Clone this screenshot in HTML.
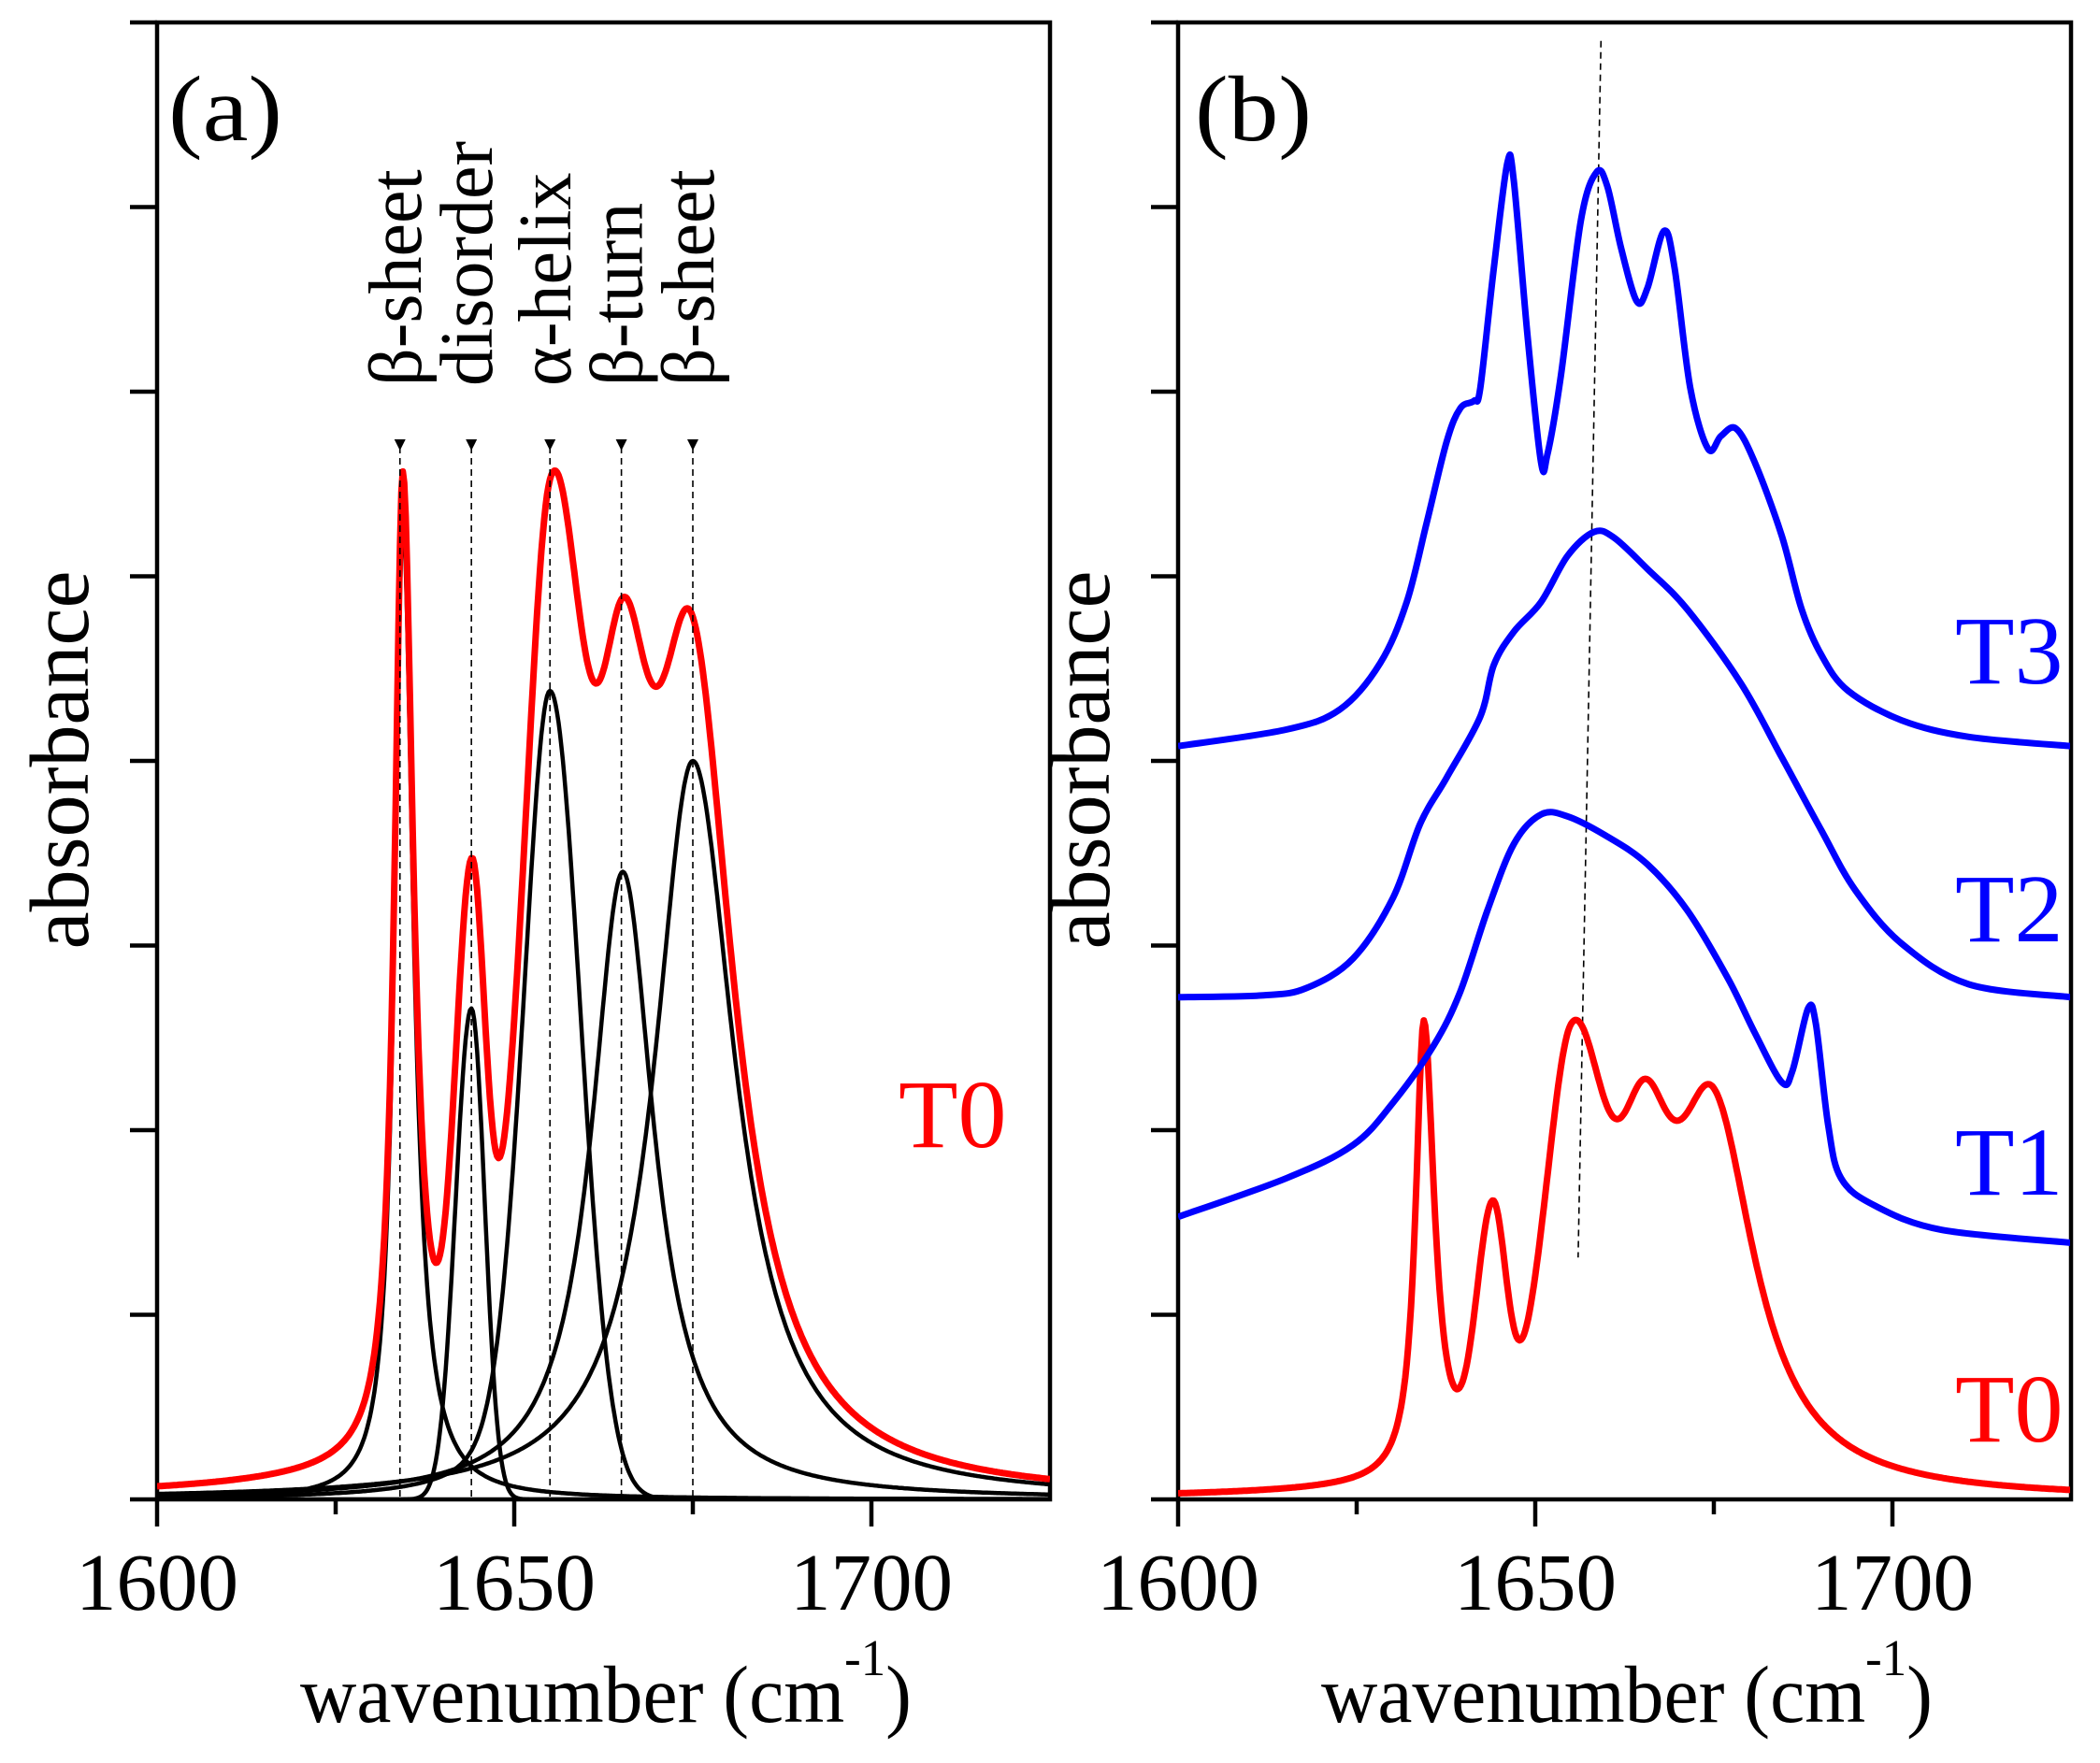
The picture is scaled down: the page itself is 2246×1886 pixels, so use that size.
<!DOCTYPE html>
<html><head><meta charset="utf-8"><style>
html,body{margin:0;padding:0;background:#fff;}
svg{display:block;font-family:"Liberation Serif",serif;}
</style></head><body>
<svg id="fig" width="2246" height="1886" viewBox="0 0 2246 1886" xmlns="http://www.w3.org/2000/svg">
<defs>
<clipPath id="clipA"><rect x="168" y="24" width="955" height="1580"/></clipPath>
<clipPath id="clipB"><rect x="1260" y="24" width="954" height="1580"/></clipPath>
</defs>
<g id="panelA"></g>
<g id="panelB"></g>
</svg>
<script>
// ---------- data ----------
// Panel (a): band components (wavenumber cm-1, height in tick units, left/right half-widths, Lorentz fractions)
const bandNames   = ["beta-sheet-1634","disorder","alpha-helix","beta-turn","beta-sheet-1675"];
const bandLabels  = ["β-sheet","disorder","α-helix","β-turn","β-sheet"];
const bandCenters = [1634.4, 1644, 1655, 1665.2, 1675];
const bandHeights = [5.3, 2.66, 4.38, 3.4, 4.0];
const bandHwhmL   = [1.4, 2.6, 4.5, 5.3, 6.5];
const bandHwhmR   = [1.8, 2.2, 5.0, 5.3, 7.2];
const bandEtaL    = [1.0, 0.0, 0.35, 1.0, 1.0];
const bandEtaR    = [1.0, 0.0, 0.0, 1.0, 1.0];
const t0ScaleB    = 0.466;
// Panel (b): measured spectra (wavenumber, absorbance in tick units)
const t3Wn  = [1600,1615.2,1622.7,1628.3,1632.0,1634.8,1637.6,1639.5,1641.4,1642.3,1644.2,1646.1,1647.0,1648.9,1650.8,1651.7,1653.6,1656.4,1658.6,1660.1,1662.0,1664.2,1665.7,1668.0,1669.5,1671.7,1674.2,1676.0,1678.1,1680.7,1684.5,1687.3,1690.1,1693.8,1701.3,1710.7,1725];
const t3Val = [4.08,4.17,4.28,4.53,4.86,5.29,5.73,5.91,5.95,6.02,6.67,7.24,7.14,6.31,5.62,5.66,6.09,6.93,7.19,7.11,6.78,6.49,6.56,6.87,6.67,6.02,5.69,5.76,5.80,5.62,5.22,4.82,4.57,4.38,4.22,4.13,4.08];
const t2Wn  = [1600,1612,1618,1624.5,1630.1,1633.9,1637.6,1642.3,1644.2,1647.0,1650.8,1654.5,1658.2,1661.0,1665.7,1671.3,1678.8,1684.5,1690.1,1694.8,1701.3,1710.7,1725];
const t2Val = [2.72,2.73,2.77,2.93,3.26,3.66,3.91,4.24,4.52,4.70,4.86,5.11,5.24,5.21,5.04,4.82,4.42,4.02,3.62,3.30,3.01,2.79,2.72];
const t1Wn  = [1600,1615.2,1624.5,1630.1,1635.8,1639.5,1643.3,1647.0,1650.8,1654.5,1660.1,1665.7,1671.3,1677.0,1680.7,1684.5,1686.0,1688.2,1689.3,1691.0,1692.8,1697.6,1706.9,1725];
const t1Val = [1.53,1.74,1.92,2.15,2.46,2.75,3.19,3.55,3.71,3.70,3.59,3.44,3.19,2.82,2.53,2.26,2.32,2.66,2.57,2.03,1.74,1.59,1.46,1.39];
const xTicksMajor = [1600, 1650, 1700];
const xTicksMinor = [1625, 1675];
const yTicks = [0,1,2,3,4,5,6,7,8];
const dashB = [[1659.2, 7.9], [1656.0, 1.31]];

// ---------- helpers ----------
const NS = "http://www.w3.org/2000/svg";
const X0 = 1600, X1 = 1725, TOP = 24, BOT = 1604, W = 955;
function xScale(left){ return w => left + (w - X0) / (X1 - X0) * W; }
function yScale(v){ return BOT - v * (BOT - TOP) / 8; }
function mk(tag, attrs, parent){ const e = document.createElementNS(NS, tag); for (const k in attrs) e.setAttribute(k, attrs[k]); parent.appendChild(e); return e; }
function band(i, w){
  const d = w - bandCenters[i], h = d < 0 ? bandHwhmL[i] : bandHwhmR[i], eta = d < 0 ? bandEtaL[i] : bandEtaR[i];
  const r = d / h, L = 1 / (1 + r*r), G = Math.exp(-Math.LN2 * r*r);
  return bandHeights[i] * (eta*L + (1-eta)*G);
}
function total(w){ let s = 0; for (let i = 0; i < bandCenters.length; i++) s += band(i, w); return s; }
function fnPath(f, xs){ let d = ""; for (let w = X0; w <= X1 + 1e-9; w += 0.2){ d += (d ? "L" : "M") + xs(w).toFixed(1) + "," + yScale(f(w)).toFixed(1); } return d; }
function smoothPath(wn, val, xs){
  const p = wn.map((w, i) => [xs(w), yScale(val[i])]);
  let d = "M" + p[0][0].toFixed(1) + "," + p[0][1].toFixed(1);
  for (let i = 0; i < p.length - 1; i++){
    const a = p[Math.max(0,i-1)], b = p[i], c = p[i+1], e = p[Math.min(p.length-1,i+2)];
    const c1 = [b[0] + (c[0]-a[0])/6, b[1] + (c[1]-a[1])/6];
    const c2 = [c[0] - (e[0]-b[0])/6, c[1] - (e[1]-b[1])/6];
    d += "C" + c1[0].toFixed(1) + "," + c1[1].toFixed(1) + " " + c2[0].toFixed(1) + "," + c2[1].toFixed(1) + " " + c[0].toFixed(1) + "," + c[1].toFixed(1);
  }
  return d;
}
function axes(g, left, tag){
  const xs = xScale(left);
  const frame = mk("rect", {x:left, y:TOP, width:W, height:BOT-TOP, fill:"none", stroke:"#000", "stroke-width":4.5}, g);
  
  
  xTicksMajor.forEach(t => {
    const l = mk("line", {x1:xs(t), x2:xs(t), y1:BOT, y2:BOT+29, stroke:"#000", "stroke-width":4.5}, g);
    
    
    const tx = mk("text", {x:xs(t), y:1722, "font-size":87, "text-anchor":"middle"}, g);
    tx.textContent = t;
    
    
  });
  xTicksMinor.forEach(t => {
    const l = mk("line", {x1:xs(t), x2:xs(t), y1:BOT, y2:BOT+16, stroke:"#000", "stroke-width":4.5}, g);
    
    
  });
  yTicks.forEach(v => {
    const l = mk("line", {x1:left-29, x2:left, y1:yScale(v), y2:yScale(v), stroke:"#000", "stroke-width":4.5}, g);
    
    
  });
  const xt = mk("text", {x:321, y:1842, "font-size":87, textLength:654, lengthAdjust:"spacingAndGlyphs"}, g);
  xt.setAttribute("transform", "translate(" + (left - 168) + ",0)");
  xt.innerHTML = 'wavenumber (cm<tspan dy="-50" font-size="55">-1</tspan><tspan dy="50">)</tspan>';
  
  
  const yt = mk("text", {x:0, y:0, "font-size":90, "text-anchor":"middle", transform:"translate(" + (left - 74) + ",813) rotate(-90)"}, g);
  yt.textContent = "absorbance";
  
  
  return xs;
}

// ---------- panel (a) ----------
const gA = document.getElementById("panelA");
const xa = axes(gA, 168, "a");
const pl = mk("text", {x:180, y:150, "font-size":100, textLength:122, lengthAdjust:"spacingAndGlyphs"}, gA);
pl.textContent = "(a)";


const clipA = mk("g", {"clip-path":"url(#clipA)"}, gA);
bandCenters.forEach((c, i) => {
  const cx = xa(Math.round(c));
  const dl = mk("line", {x1:cx, x2:cx, y1:478, y2:BOT, stroke:"#000", "stroke-width":1.6, "stroke-dasharray":"7,5"}, gA);
  
  
  const tr = mk("polygon", {points:(cx-6)+",470 "+(cx+6)+",470 "+cx+",482", fill:"#000"}, gA);
  
  
  const lab = mk("text", {x:0, y:0, "font-size":80, transform:"translate(" + (cx + 22) + ",413) rotate(-90)"}, gA);
  lab.textContent = bandLabels[i];
  
  
  const p = mk("path", {d:fnPath(w => band(i, w), xa), fill:"none", stroke:"#000", "stroke-width":4.5, "stroke-linejoin":"round"}, clipA);
  
  
});
const redA = mk("path", {d:fnPath(total, xa), fill:"none", stroke:"#ff0000", "stroke-width":7, "stroke-linejoin":"round"}, clipA);


const t0a = mk("text", {x:961, y:1227, "font-size":104, fill:"#ff0000"}, gA);
t0a.textContent = "T0";



// ---------- panel (b) ----------
const gB = document.getElementById("panelB");
const xb = axes(gB, 1260, "b");
const plb = mk("text", {x:1278, y:150, "font-size":100, textLength:125, lengthAdjust:"spacingAndGlyphs"}, gB);
plb.textContent = "(b)";


const dashLine = mk("line", {x1:xb(dashB[0][0]), y1:yScale(dashB[0][1]), x2:xb(dashB[1][0]), y2:yScale(dashB[1][1]), stroke:"#000", "stroke-width":1.6, "stroke-dasharray":"7,5"}, gB);


const clipB = mk("g", {"clip-path":"url(#clipB)"}, gB);
const t0b = mk("path", {d:fnPath(w => t0ScaleB * total(w), xb), fill:"none", stroke:"#ff0000", "stroke-width":7, "stroke-linejoin":"round"}, clipB);


[[t1Wn,t1Val,"t1"],[t2Wn,t2Val,"t2"],[t3Wn,t3Val,"t3"]].forEach(s => {
  const p = mk("path", {d:smoothPath(s[0], s[1], xb), fill:"none", stroke:"#0000ff", "stroke-width":7, "stroke-linejoin":"round"}, clipB);
  
  
});
[["T3",731,"#0000ff"],["T2",1007,"#0000ff"],["T1",1278,"#0000ff"],["T0",1542,"#ff0000"]].forEach(l => {
  const t = mk("text", {x:2091, y:l[1], "font-size":104, fill:l[2]}, gB);
  t.textContent = l[0];
  
  
});
</script>
</body></html>
